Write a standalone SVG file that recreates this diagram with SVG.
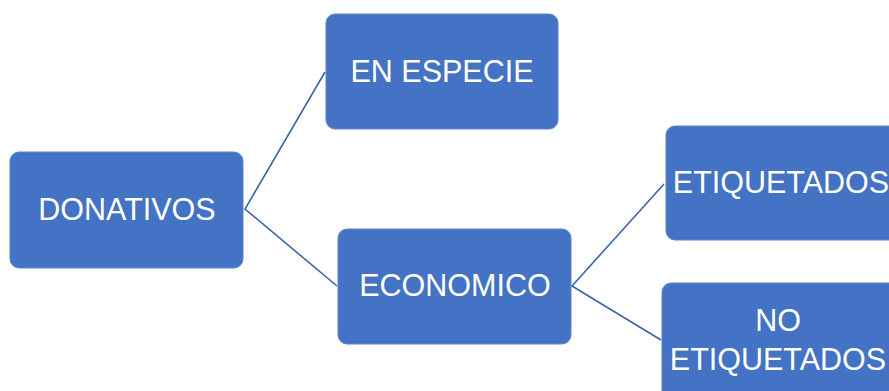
<svg xmlns="http://www.w3.org/2000/svg" width="889" height="391" viewBox="0 0 889 391">
<style>
.box{fill:#4472C4;stroke:#5B84CC;stroke-width:1}
.lbl{fill:#FFFFFF;font-family:"Liberation Sans",Arial,sans-serif;font-size:30.5px;text-anchor:middle}
.conn{fill:none;stroke:#3D64A8;stroke-width:1.6}
</style>
<rect width="889" height="391" fill="#FFFFFF"/>
<g id="connectors">
<polyline class="conn" points="325,72 245,209 337,286"/>
<polyline class="conn" points="664,184 572,286 661,340"/>
</g>
<g id="donativos">
<rect class="box" x="10" y="152" width="233" height="116" rx="9"/>
<text class="lbl" x="127" y="220">DONATIVOS</text>
</g>
<g id="en-especie">
<rect class="box" x="326" y="14" width="232" height="115" rx="9"/>
<text class="lbl" x="442" y="82">EN ESPECIE</text>
</g>
<g id="economico">
<rect class="box" x="338" y="229" width="233" height="115" rx="9"/>
<text class="lbl" x="455" y="296">ECONOMICO</text>
</g>
<g id="etiquetados">
<rect class="box" x="666" y="126" width="240" height="114" rx="9"/>
<text class="lbl" x="781" y="193">ETIQUETADOS</text>
</g>
<g id="no-etiquetados">
<rect class="box" x="662" y="283" width="240" height="120" rx="9"/>
<text class="lbl" x="778" y="331">NO</text>
<text class="lbl" x="778" y="370">ETIQUETADOS</text>
</g>
</svg>
